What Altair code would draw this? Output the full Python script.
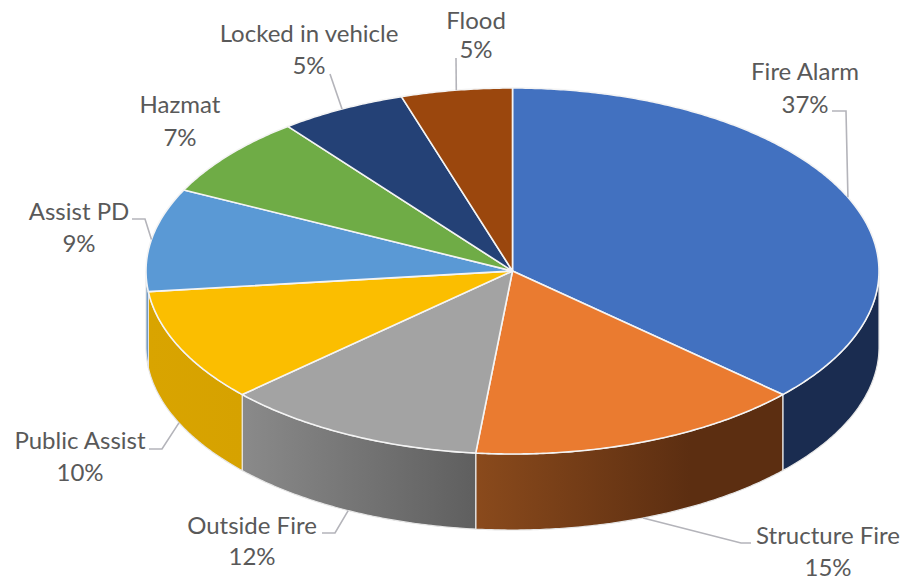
import math
import altair as alt
import pandas as pd

categories = ["Fire Alarm", "Structure Fire", "Outside Fire", "Public Assist",
              "Assist PD", "Hazmat", "Locked in vehicle", "Flood"]
shares = [37, 15, 12, 10, 9, 7, 5, 5]
sweeps = [36.8, 14.8, 11.6, 10.0, 9.1, 7.2, 5.6, 4.9]
top_colors = ["#4271c0", "#ea7b30", "#a3a3a3", "#fbbe00", "#5a99d5", "#6fac46", "#244176", "#9b470d"]
wall_left = ["#1a2c50", "#8a4a1c", "#8a8a8a", "#d9a400", "#4a80b8", "#70ad47", "#264478", "#9e480e"]
wall_right = ["#1a2c50", "#5c2e11", "#5f5f5f", "#d6a200", "#4a80b8", "#70ad47", "#264478", "#9e480e"]

# label layout (screen px): name centre, percent centre, leader bend points
label_x = [805, 828, 252, 80, 79, 180, 309, 476]
name_y = [73, 537, 527, 442, 213, 106, 35, 22]
pct_y = [106, 569, 558, 474, 245, 139, 67, 51]
bends = [
    [(846, 111), (832, 111)],
    [(741, 543), (751, 543)],
    [(335, 533), (322, 533)],
    [(162, 449), (149, 449)],
    [(145, 219), (132, 219)],
    [],
    [(330, 74)],
    [(456, 58)],
]
on_wall = [False, True, True, True, False, False, False, False]

CX, CY, RX, RY, DEPTH = 512.5, 271, 366.5, 183, 76
W, H = 893, 573
FONT = "Lato"
FS = 24

xs = alt.Scale(domain=[8, 8 + W], range=[0, W], nice=False, zero=False)
ys = alt.Scale(domain=[8, 8 + H], range=[0, H], nice=False, zero=False)
X = alt.X("x:Q", scale=xs, axis=None)
Y = alt.Y("y:Q", scale=ys, axis=None)


def pt(deg):
    r = math.radians(deg)
    return CX + RX * math.sin(r), CY - RY * math.cos(r)


starts, a = [], 0.0
for s in sweeps:
    starts.append(a)
    a += s * 3.6

layers = []

# side walls
for i, s in enumerate(sweeps):
    lo, hi = max(starts[i], 90), min(starts[i] + s * 3.6, 270)
    if hi <= lo:
        continue
    n = max(2, int((hi - lo) * 2))
    rows = []
    for k in range(n + 1):
        px, py = pt(lo + (hi - lo) * k / n)
        rows.append({"x": px, "y": py, "y2": py + DEPTH})
    grad = alt.Gradient(
        gradient="linear", x1=0, x2=1, y1=0, y2=0,
        stops=[alt.GradientStop(color=wall_left[i], offset=0),
               alt.GradientStop(color=wall_right[i], offset=0.7 if i == 1 else 1),
               alt.GradientStop(color=wall_right[i], offset=1)],
    )
    layers.append(
        alt.Chart(pd.DataFrame(rows)).mark_area(fill=grad, stroke="#e6e6e6", strokeWidth=1.2, interpolate="linear")
        .encode(x=X, y=Y, y2="y2:Q")
    )

# top sectors
for i, s in enumerate(sweeps):
    lo, hi = starts[i], starts[i] + s * 3.6
    n = max(2, int((hi - lo) * 2))
    rows = [{"x": CX, "y": CY, "o": 0}]
    for k in range(n + 1):
        px, py = pt(lo + (hi - lo) * k / n)
        rows.append({"x": px, "y": py, "o": k + 1})
    rows.append({"x": CX, "y": CY, "o": n + 2})
    layers.append(
        alt.Chart(pd.DataFrame(rows)).mark_line(fill=top_colors[i], stroke="#f4f4f4", strokeWidth=1.6, strokeJoin="round")
        .encode(x=X, y=Y, order="o:Q")
    )

# leaders, anchored on the middle of each slice
for i, s in enumerate(sweeps):
    if not bends[i]:
        continue
    ax, ay = pt(starts[i] + s * 1.8)
    if on_wall[i]:
        ay += DEPTH
    pts = [(ax, ay)] + bends[i]
    rows = [{"x": p[0], "y": p[1], "o": j} for j, p in enumerate(pts)]
    layers.append(
        alt.Chart(pd.DataFrame(rows)).mark_line(color="#b4b4ba", strokeWidth=1.6)
        .encode(x=X, y=Y, order="o:Q")
    )

# labels
label_rows = []
for i, c in enumerate(categories):
    label_rows.append({"x": label_x[i], "y": name_y[i], "t": c})
    label_rows.append({"x": label_x[i], "y": pct_y[i], "t": f"{shares[i]}%"})
layers.append(
    alt.Chart(pd.DataFrame(label_rows)).mark_text(font=FONT, fontSize=FS, color="#595959", align="center", baseline="middle")
    .encode(x=X, y=Y, text="t:N")
)

chart = alt.layer(*layers).properties(
    width=W, height=H, padding=0,
    autosize=alt.AutoSizeParams(type="none"),
    background="white",
).configure_view(stroke=None)

chart.save("out.html", embed_options={"renderer": "svg", "actions": False})
